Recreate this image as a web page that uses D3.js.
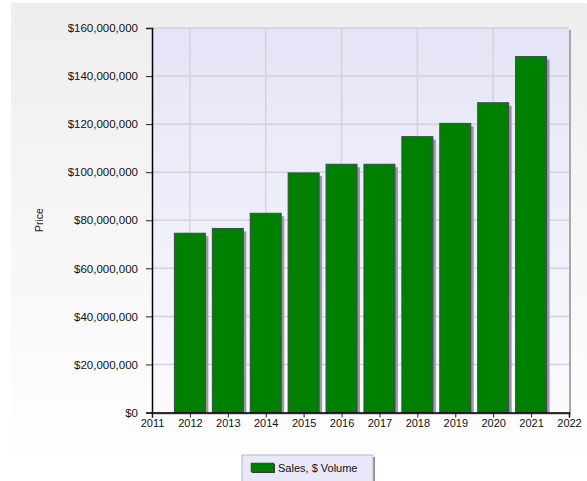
<!DOCTYPE html>
<html>
<head>
<meta charset="utf-8">
<script src="https://cdn.jsdelivr.net/npm/d3@7"></script>
<style>
  body { margin: 0; background: #ffffff; }
  text { font-family: Arial, "Liberation Sans", sans-serif; }
</style>
</head>
<body>
<div id="chart"></div>
<script>

// chart data
const years = [2012, 2013, 2014, 2015, 2016, 2017, 2018, 2019, 2020, 2021];
const salesVolume = [74600000, 76600000, 82900000, 99700000, 103300000, 103300000, 114800000, 120300000, 128900000, 148100000];
const xTicks = [2011, 2012, 2013, 2014, 2015, 2016, 2017, 2018, 2019, 2020, 2021, 2022];
const xGrid = [2012, 2014, 2016, 2018, 2020];
const yTicks = [0, 20000000, 40000000, 60000000, 80000000, 100000000, 120000000, 140000000, 160000000];
const seriesName = "Sales, $ Volume";
const yTitle = "Price";

const W = 587, H = 481;
const margin = {top: 28, right: 18, bottom: 68.5, left: 152};

let svg = d3.select("#chart").append("svg")
    .attr("width", W)
    .attr("height", H);

let defs = svg.append("defs");

let bgGrad = defs.append("linearGradient")
    .attr("id", "bgGrad").attr("x1", 0).attr("y1", 0).attr("x2", 0).attr("y2", 1);
bgGrad.append("stop").attr("offset", "0%").attr("stop-color", "#eeeeee");
bgGrad.append("stop").attr("offset", "100%").attr("stop-color", "#fefefe");

let plotGrad = defs.append("linearGradient")
    .attr("id", "plotGrad").attr("x1", 0).attr("y1", 0).attr("x2", 0).attr("y2", 1);
plotGrad.append("stop").attr("offset", "0%").attr("stop-color", "#e4e4f7");
plotGrad.append("stop").attr("offset", "100%").attr("stop-color", "#fafafe");

// outer panel
svg.append("rect")
    .attr("x", 11).attr("y", 3)
    .attr("width", W - 11).attr("height", 449)
    .attr("fill", "url(#bgGrad)");

let innerW = W - margin.left - margin.right;
let innerH = H - margin.top - margin.bottom;

let x = d3.scaleLinear().domain([2011, 2022]).range([0, innerW]);
let y = d3.scaleLinear().domain([0, 160000000]).range([innerH, 0]);

let g = svg.append("g").attr("transform", `translate(${margin.left},${margin.top})`);

// plot area shadow + fill
g.append("rect")
    .attr("x", 2).attr("y", 2)
    .attr("width", innerW).attr("height", innerH)
    .attr("fill", "#a8a8a8");
g.append("rect")
    .attr("width", innerW).attr("height", innerH)
    .attr("fill", "url(#plotGrad)");

// grid lines
g.selectAll(".hgrid")
    .data(yTicks.slice(1))
    .enter().append("line")
    .attr("x1", 0).attr("x2", innerW)
    .attr("y1", d => y(d)).attr("y2", d => y(d))
    .attr("stroke", "#d3d3d8").attr("stroke-width", 1.5);

g.selectAll(".vgrid")
    .data(xGrid)
    .enter().append("line")
    .attr("x1", d => x(d)).attr("x2", d => x(d))
    .attr("y1", 0).attr("y2", innerH)
    .attr("stroke", "#d3d3d8").attr("stroke-width", 1.5);

// bars
let barW = 31;
let bars = g.selectAll(".bar")
    .data(years.map((yr, i) => ({year: yr, value: salesVolume[i]})))
    .enter().append("g");

bars.append("rect")
    .attr("x", d => x(d.year) - barW / 2 + 3)
    .attr("y", d => y(d.value) + 3)
    .attr("width", barW)
    .attr("height", d => innerH - y(d.value) - 3)
    .attr("fill", "#9a9aa6");

bars.append("rect")
    .attr("x", d => x(d.year) - barW / 2)
    .attr("y", d => y(d.value))
    .attr("width", barW)
    .attr("height", d => innerH - y(d.value))
    .attr("fill", "#008000")
    .attr("stroke", "#3c4a50")
    .attr("stroke-width", 1);

// axes
let yAxis = d3.axisLeft(y)
    .tickValues(yTicks)
    .tickSize(6)
    .tickPadding(8)
    .tickFormat(d => "$" + d3.format(",")(d));

let xAxis = d3.axisBottom(x)
    .tickValues(xTicks)
    .tickSize(5)
    .tickPadding(2)
    .tickFormat(d3.format("d"));

let ya = g.append("g").call(yAxis);
let xa = g.append("g").attr("transform", `translate(0,${innerH})`).call(xAxis);

[ya, xa].forEach(a => {
    a.select(".domain").attr("stroke", "#000").attr("stroke-width", 1.5);
    a.selectAll(".tick line").attr("stroke", "#222");
    a.selectAll(".tick text").attr("fill", "#111");
});
ya.selectAll(".tick text").style("font-size", "11.5px");
xa.selectAll(".tick text").style("font-size", "11px");

// y title
svg.append("text")
    .attr("transform", `translate(43,220) rotate(-90)`)
    .attr("text-anchor", "middle")
    .attr("fill", "#222")
    .style("font-size", "10.5px")
    .text(yTitle);

// legend
let lg = svg.append("g").attr("transform", "translate(242,455)");
lg.append("rect")
    .attr("x", 2).attr("y", 2).attr("width", 131).attr("height", 40)
    .attr("fill", "#8c8c8c");
lg.append("rect")
    .attr("width", 131).attr("height", 40)
    .attr("fill", "#e8e8f8")
    .attr("stroke", "#b8b8c0");
lg.append("rect")
    .attr("x", 10).attr("y", 9).attr("width", 23).attr("height", 9)
    .attr("fill", "#3a3a3a");
lg.append("rect")
    .attr("x", 9).attr("y", 8).attr("width", 23).attr("height", 9)
    .attr("fill", "#008000")
    .attr("stroke", "#2a4a2a").attr("stroke-width", 0.5);
lg.append("text")
    .attr("x", 36).attr("y", 16.5)
    .attr("fill", "#111")
    .style("font-size", "11px")
    .text(seriesName);

</script>
</body>
</html>
